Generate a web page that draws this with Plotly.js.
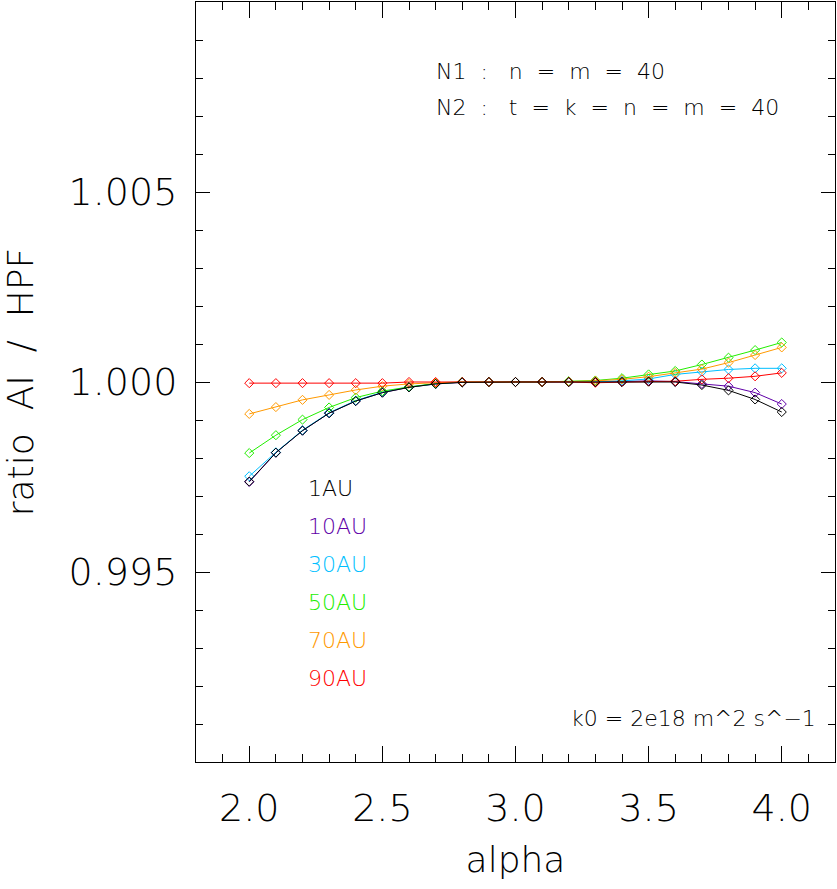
<!DOCTYPE html>
<html>
<head>
<meta charset="utf-8">
<script src="https://cdn.plot.ly/plotly-3.0.1.min.js"></script>
<style>
  html, body { margin: 0; padding: 0; background: #fff; }
  #chart { width: 837px; height: 889px; }
</style>
</head>
<body>
<div id="chart"></div>
<script>
// Spectral index alpha on the x axis
const alpha = [2.0, 2.1, 2.2, 2.3, 2.4, 2.5, 2.6, 2.7, 2.8, 2.9, 3.0,
               3.1, 3.2, 3.3, 3.4, 3.5, 3.6, 3.7, 3.8, 3.9, 4.0];

// Ratio AI / HPF at each heliocentric distance
const ratio1AU  = [0.99738, 0.99814, 0.99872, 0.99918, 0.99950, 0.99972, 0.99986, 0.99995, 0.99999, 1.00000, 1.00000,
                   1.00000, 1.00000, 1.00000, 1.00000, 1.00001, 1.00000, 0.99992, 0.99978, 0.99954, 0.99921];
const ratio10AU = [0.99737, 0.99814, 0.99872, 0.99918, 0.99950, 0.99972, 0.99986, 0.99995, 0.99999, 1.00000, 1.00000,
                   1.00000, 1.00000, 1.00000, 1.00001, 1.00003, 1.00001, 0.99995, 0.99989, 0.99972, 0.99942];
const ratio30AU = [0.99752, 0.99815, 0.99873, 0.99919, 0.99951, 0.99973, 0.99987, 0.99995, 1.00000, 1.00000, 1.00000,
                   1.00000, 1.00000, 1.00001, 1.00003, 1.00008, 1.00020, 1.00027, 1.00033, 1.00036, 1.00036];
const ratio50AU = [0.99813, 0.99860, 0.99901, 0.99933, 0.99959, 0.99976, 0.99987, 0.99996, 1.00000, 1.00000, 1.00000,
                   1.00000, 1.00002, 1.00004, 1.00010, 1.00020, 1.00029, 1.00046, 1.00064, 1.00084, 1.00104];
const ratio70AU = [0.99916, 0.99934, 0.99953, 0.99966, 0.99979, 0.99989, 0.99995, 0.99998, 1.00000, 1.00000, 1.00000,
                   1.00000, 1.00001, 1.00003, 1.00007, 1.00014, 1.00024, 1.00034, 1.00051, 1.00071, 1.00091];
const ratio90AU = [0.99997, 0.99997, 0.99997, 0.99997, 0.99997, 0.99997, 1.00000, 1.00000, 1.00000, 1.00000, 1.00000,
                   1.00000, 1.00000, 0.99998, 1.00000, 1.00001, 1.00002, 1.00007, 1.00010, 1.00015, 1.00024];

const seriesNames  = ['1AU', '10AU', '30AU', '50AU', '70AU', '90AU'];
const seriesValues = [ratio1AU, ratio10AU, ratio30AU, ratio50AU, ratio70AU, ratio90AU];
const seriesColors = ['#000000', '#6000a8', '#00bfff', '#22ee00', '#ff9900', '#ff0000'];

const FONT = '"DejaVu Sans Light", "DejaVu Sans", sans-serif';
const WEIGHT = 200;
const font = (size, color) => ({ family: FONT, size: size, color: color || '#000', weight: WEIGHT });

// 1AU is drawn last so it sits on top of the others
const drawOrder = [1, 2, 3, 4, 5, 0];
const traces = drawOrder.map(i => ({
  type: 'scatter',
  mode: 'lines+markers',
  x: alpha,
  y: seriesValues[i],
  name: seriesNames[i],
  line: { color: seriesColors[i], width: 1 },
  marker: { symbol: 'diamond-open', size: 7, color: seriesColors[i], line: { width: 1, color: seriesColors[i] } },
  showlegend: false
}));

// Series labels stacked below the curves
const labelTop = 0.3605, labelStep = 0.05;
const annotations = seriesNames.map((name, i) => ({
  xref: 'paper', yref: 'paper',
  x: 0.172, y: labelTop - i * labelStep,
  xanchor: 'left', yanchor: 'middle',
  text: name, showarrow: false,
  font: font(22, seriesColors[i])
}));

annotations.push(
  { xref: 'paper', yref: 'paper', x: 0.372, y: 0.908, xanchor: 'left', yanchor: 'middle',
    text: 'N1\u00a0 :\u00a0 \u00a0n\u00a0 =\u00a0 m\u00a0 =\u00a0 40', showarrow: false, font: font(22) },
  { xref: 'paper', yref: 'paper', x: 0.372, y: 0.861, xanchor: 'left', yanchor: 'middle',
    text: 'N2\u00a0 :\u00a0 \u00a0t\u00a0 =\u00a0 k\u00a0 =\u00a0 n\u00a0 =\u00a0 m\u00a0 =\u00a0 40', showarrow: false, font: font(22) },
  { xref: 'paper', yref: 'paper', x: 0.9734, y: 0.057, xanchor: 'right', yanchor: 'middle',
    text: 'k0 = 2e18 m^2 s^\u22121', showarrow: false, font: font(22) }
);

const layout = {
  width: 837, height: 889,
  margin: { l: 196, r: 2, t: 2, b: 127 },
  paper_bgcolor: '#fff', plot_bgcolor: '#fff',
  font: font(16),
  xaxis: {
    range: [1.8, 4.2],
    tickvals: [2.0, 2.5, 3.0, 3.5, 4.0],
    ticktext: ['2.0', '2.5', '3.0', '3.5', '4.0'],
    ticks: 'inside', ticklen: 16, tickwidth: 1, tickcolor: '#000',
    minor: { dtick: 0.1, tick0: 0, ticks: 'inside', ticklen: 8, tickwidth: 1, tickcolor: '#000' },
    showline: true, linecolor: '#000', linewidth: 1, mirror: 'allticks',
    showgrid: false, zeroline: false,
    tickfont: font(38),
    ticklabelstandoff: 12,
    title: { text: 'alpha', font: font(36), standoff: 18 }
  },
  yaxis: {
    range: [0.990, 1.010],
    tickvals: [0.995, 1.000, 1.005],
    ticktext: ['0.995', '1.000', '1.005'],
    ticks: 'inside', ticklen: 14, tickwidth: 1, tickcolor: '#000',
    minor: { dtick: 0.001, tick0: 0.99, ticks: 'inside', ticklen: 7, tickwidth: 1, tickcolor: '#000' },
    showline: true, linecolor: '#000', linewidth: 1, mirror: 'allticks',
    showgrid: false, zeroline: false,
    tickfont: font(38),
    ticklabelstandoff: 10,
    title: { text: 'ratio\u00a0 AI\u00a0 /\u00a0 HPF', font: font(36), standoff: 44 }
  },
  annotations: annotations
};

Plotly.newPlot('chart', traces, layout, { staticPlot: true, displayModeBar: false });
</script>
</body>
</html>
